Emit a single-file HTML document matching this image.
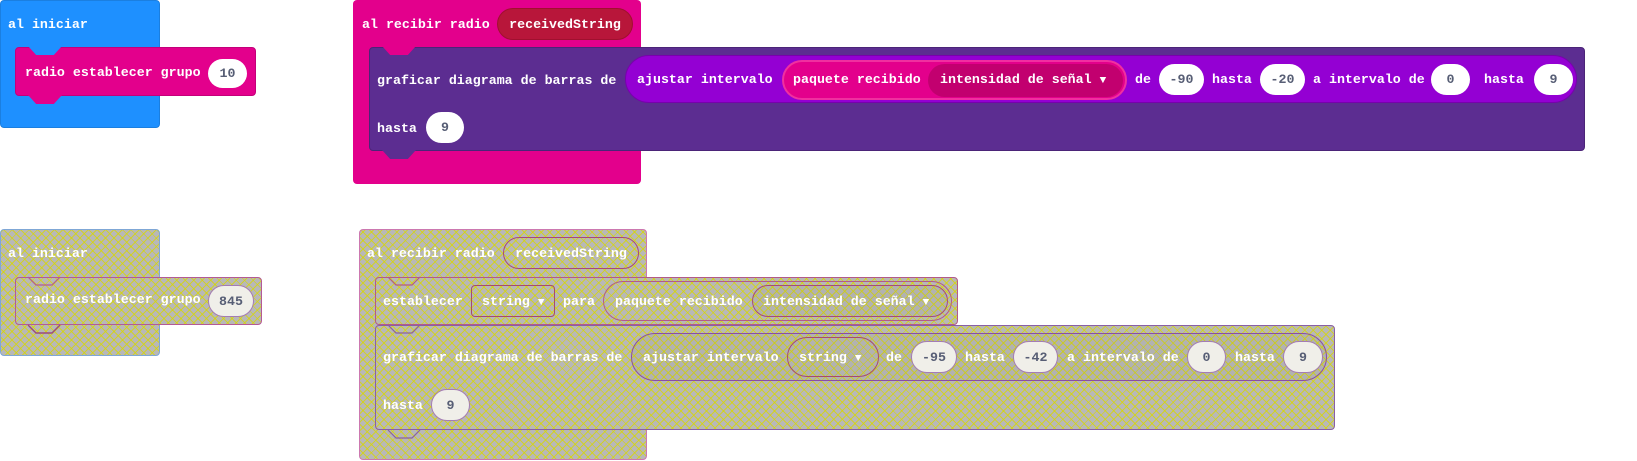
<!DOCTYPE html>
<html><head><meta charset="utf-8"><style>
html,body{margin:0;padding:0;background:#fff;width:1637px;height:461px;overflow:hidden;position:relative}
div{box-sizing:border-box}
.a{position:absolute}
.t{position:absolute;font:bold 13.3px "Liberation Mono","DejaVu Sans Mono",monospace;color:#fff;line-height:16px;white-space:pre}
.p{position:absolute;display:flex;align-items:center;justify-content:center;font:bold 13.3px "Liberation Mono","DejaVu Sans Mono",monospace;color:#575e75;white-space:pre}
.w{background:#fff}
.h{background:
 repeating-linear-gradient(45deg,rgba(215,215,0,.75) 0 1px,transparent 1px 6px),
 repeating-linear-gradient(-45deg,rgba(215,215,0,.75) 0 1px,transparent 1px 6px),#b8b8b8}
.hp{background:#f0efe9;border:1px solid #a47cb4}
.d{font-size:11px}
</style></head><body>

<!-- top-left -->
<div class="a" style="left:0;top:0;width:160px;height:128px;background:#1e90ff;border:1px solid #1b7fe0;border-radius:4px"></div>
<div class="t" style="left:8px;top:17px">al iniciar</div>
<div class="a" style="left:15px;top:47px;width:241px;height:49px;background:#e3008c;border:1px solid #c4007a;border-radius:4px"></div>
<div class="a" style="left:28px;top:46px;width:34px;height:9px;background:#1e90ff;clip-path:polygon(0 0,100% 0,76% 100%,24% 100%)"></div>
<div class="a" style="left:28px;top:95px;width:34px;height:9px;background:#e3008c;clip-path:polygon(0 0,100% 0,76% 100%,24% 100%)"></div>
<div class="t" style="left:25px;top:65px">radio establecer grupo</div>
<div class="p w" style="left:208px;top:59px;width:39px;height:29px;border-radius:15px">10</div>

<!-- top-right -->
<div class="a" style="left:353px;top:0;width:288px;height:184px;background:#e3008c;border-radius:4px"></div>
<div class="t" style="left:362px;top:17px">al recibir radio</div>
<div class="p" style="left:497px;top:8px;width:136px;height:32px;border-radius:16px;background:#b8163a;color:#fff;border:1px solid #a0102f">receivedString</div>
<div class="a" style="left:369px;top:47px;width:1216px;height:104px;background:#5c2d91;border:1px solid #4b2478;border-radius:4px"></div>
<div class="a" style="left:382px;top:46px;width:34px;height:9px;background:#e3008c;clip-path:polygon(0 0,100% 0,76% 100%,24% 100%)"></div>
<div class="a" style="left:382px;top:150px;width:34px;height:9px;background:#5c2d91;clip-path:polygon(0 0,100% 0,76% 100%,24% 100%)"></div>
<div class="t" style="left:377px;top:73px">graficar diagrama de barras de</div>
<div class="a" style="left:625px;top:55px;width:952px;height:48px;border-radius:24px;background:#9400d3;border:1px solid #7800ad"></div>
<div class="t" style="left:637px;top:72px">ajustar intervalo</div>
<div class="a" style="left:782px;top:60px;width:345px;height:40px;border-radius:20px;background:#e3008c;border:2px solid #f0309f"></div>
<div class="t" style="left:793px;top:72px">paquete recibido</div>
<div class="a" style="left:928px;top:64px;width:195px;height:33px;border-radius:17px;background:#c2006f"></div>
<div class="t" style="left:940px;top:72px">intensidad de señal <span class="d">▼</span></div>
<div class="t" style="left:1135px;top:72px">de</div>
<div class="p w" style="left:1159px;top:64px;width:45px;height:31px;border-radius:16px">-90</div>
<div class="t" style="left:1212px;top:72px">hasta</div>
<div class="p w" style="left:1260px;top:64px;width:45px;height:31px;border-radius:16px">-20</div>
<div class="t" style="left:1313px;top:72px">a intervalo de</div>
<div class="p w" style="left:1431px;top:64px;width:39px;height:31px;border-radius:16px">0</div>
<div class="t" style="left:1484px;top:72px">hasta</div>
<div class="p w" style="left:1534px;top:64px;width:39px;height:31px;border-radius:16px">9</div>
<div class="t" style="left:377px;top:121px">hasta</div>
<div class="p w" style="left:426px;top:112px;width:38px;height:31px;border-radius:16px">9</div>

<!-- bottom-left -->
<div class="a h" style="left:0;top:229px;width:160px;height:127px;border:1px solid #7fa7d6;border-radius:4px"></div>
<div class="t" style="left:8px;top:246px">al iniciar</div>
<div class="a h" style="left:15px;top:277px;width:247px;height:48px;border:1px solid #b45a96;border-radius:4px"></div>
<svg class="a" style="left:15px;top:276px" width="50" height="58"><polyline points="13,1 21,9 37,9 45,1" fill="none" stroke="#b45a96" stroke-width="1.2"/><polyline points="13,49 21,57 37,57 45,49" fill="none" stroke="#9a4a80" stroke-width="1.4"/></svg>
<div class="t" style="left:25px;top:292px">radio establecer grupo</div>
<div class="p hp" style="left:208px;top:285px;width:46px;height:32px;border-radius:16px">845</div>

<!-- bottom-right -->
<div class="a h" style="left:359px;top:229px;width:288px;height:231px;border:1px solid #cc78b0;border-radius:4px"></div>
<div class="t" style="left:367px;top:246px">al recibir radio</div>
<div class="p" style="left:503px;top:237px;width:136px;height:32px;border-radius:16px;border:1px solid #a8487a;color:#fff">receivedString</div>
<div class="a h" style="left:375px;top:277px;width:583px;height:48px;border:1px solid #b45a88;border-radius:4px"></div>
<div class="a h" style="left:375px;top:325px;width:960px;height:105px;border:1px solid #8a60a4;border-radius:4px"></div>
<svg class="a" style="left:375px;top:276px" width="50" height="163"><polyline points="13,1 21,9 37,9 45,1" fill="none" stroke="#b45a88" stroke-width="1.2"/><polyline points="13,49 21,57 37,57 45,49" fill="none" stroke="#8a60a4" stroke-width="1.2"/><polyline points="13,154 21,162 37,162 45,154" fill="none" stroke="#8a60a4" stroke-width="1.2"/></svg>
<div class="t" style="left:383px;top:294px">establecer</div>
<div class="a" style="left:471px;top:285px;width:84px;height:32px;border-radius:4px;border:1.5px solid #a84a6e"></div>
<div class="t" style="left:482px;top:294px">string <span class="d">▼</span></div>
<div class="t" style="left:563px;top:294px">para</div>
<div class="a" style="left:603px;top:281px;width:349px;height:40px;border-radius:20px;border:1.5px solid #b45a88"></div>
<div class="t" style="left:615px;top:294px">paquete recibido</div>
<div class="a" style="left:752px;top:285px;width:196px;height:32px;border-radius:16px;border:1.5px solid #a84a7a;background:rgba(120,110,100,.08)"></div>
<div class="t" style="left:763px;top:294px">intensidad de señal <span class="d">▼</span></div>
<div class="t" style="left:383px;top:350px">graficar diagrama de barras de</div>
<div class="a" style="left:631px;top:333px;width:696px;height:48px;border-radius:24px;border:1.5px solid #8a4ea4;background:rgba(120,110,100,.08)"></div>
<div class="t" style="left:643px;top:350px">ajustar intervalo</div>
<div class="a" style="left:787px;top:337px;width:92px;height:40px;border-radius:20px;border:1.5px solid #a84a6e"></div>
<div class="t" style="left:799px;top:350px">string <span class="d">▼</span></div>
<div class="t" style="left:886px;top:350px">de</div>
<div class="p hp" style="left:911px;top:341px;width:46px;height:32px;border-radius:16px">-95</div>
<div class="t" style="left:965px;top:350px">hasta</div>
<div class="p hp" style="left:1013px;top:341px;width:45px;height:32px;border-radius:16px">-42</div>
<div class="t" style="left:1067px;top:350px">a intervalo de</div>
<div class="p hp" style="left:1187px;top:341px;width:39px;height:32px;border-radius:16px">0</div>
<div class="t" style="left:1235px;top:350px">hasta</div>
<div class="p hp" style="left:1283px;top:341px;width:40px;height:32px;border-radius:16px">9</div>
<div class="t" style="left:383px;top:398px">hasta</div>
<div class="p hp" style="left:431px;top:389px;width:39px;height:32px;border-radius:16px">9</div>

</body></html>
